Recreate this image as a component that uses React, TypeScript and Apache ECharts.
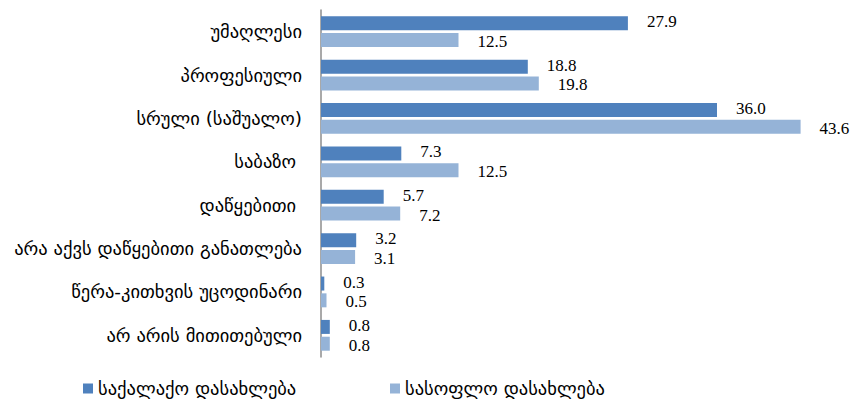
import React, { useEffect, useRef } from "react";
import * as echarts from "echarts";

const categories = [
  "უმაღლესი",
  "პროფესიული",
  "სრული (საშუალო)",
  "საბაზო ",
  "დაწყებითი ",
  "არა აქვს დაწყებითი განათლება",
  "წერა-კითხვის უცოდინარი",
  "არ არის მითითებული",
];
const urban = [27.9, 18.8, 36.0, 7.3, 5.7, 3.2, 0.3, 0.8];
const rural = [12.5, 19.8, 43.6, 12.5, 7.2, 3.1, 0.5, 0.8];
const seriesNames = ["საქალაქო დასახლება", "სასოფლო დასახლება"];

const labelFont = "DejaVu Sans";
const valueFont = "Liberation Serif";

export default function App() {
  const ref = useRef<HTMLDivElement>(null);
  useEffect(() => {
    document.body.style.margin = "0";
    if (!ref.current) return;
    const chart = echarts.init(ref.current, null, { renderer: "svg" });
    const valueLabel = (dy: number) => ({
      show: true,
      position: "right" as const,
      distance: 19,
      offset: [0, dy],
      fontFamily: valueFont,
      fontSize: 17,
      lineHeight: 15,
      color: "#000",
      formatter: (p: any) => Number(p.value).toFixed(1),
    });
    const legendText = { fontFamily: labelFont, fontSize: 18.5, color: "#000" };
    chart.setOption({
      animation: false,
      backgroundColor: "#fff",
      grid: { left: 321, right: 41, top: 10, bottom: 46, containLabel: false },
      legend: [
        {
          data: [seriesNames[0]],
          left: 78,
          top: 374,
          itemWidth: 10,
          itemHeight: 10,
          itemGap: 5,
          icon: "rect",
          textStyle: legendText,
        },
        {
          data: [seriesNames[1]],
          left: 385,
          top: 374,
          itemWidth: 10,
          itemHeight: 10,
          icon: "rect",
          textStyle: legendText,
        },
      ],
      xAxis: {
        type: "value",
        min: 0,
        max: 45,
        show: false,
        splitLine: { show: false },
      },
      yAxis: {
        type: "category",
        data: categories,
        inverse: true,
        axisTick: { show: false },
        axisLine: { show: true, lineStyle: { color: "#8c8c8c", width: 1.5 } },
        axisLabel: {
          margin: 19,
          fontFamily: labelFont,
          fontSize: 18.5,
          color: "#000",
        },
      },
      series: [
        {
          name: seriesNames[0],
          type: "bar",
          data: urban,
          barGap: "20%",
          barCategoryGap: "29%",
          itemStyle: { color: "#4F81BD" },
          label: valueLabel(-1.5),
        },
        {
          name: seriesNames[1],
          type: "bar",
          data: rural,
          barGap: "20%",
          barCategoryGap: "29%",
          itemStyle: { color: "#95B3D7" },
          label: valueLabel(1.5),
        },
      ],
    });
    return () => chart.dispose();
  }, []);
  return <div ref={ref} style={{ width: 857, height: 403 }} />;
}
